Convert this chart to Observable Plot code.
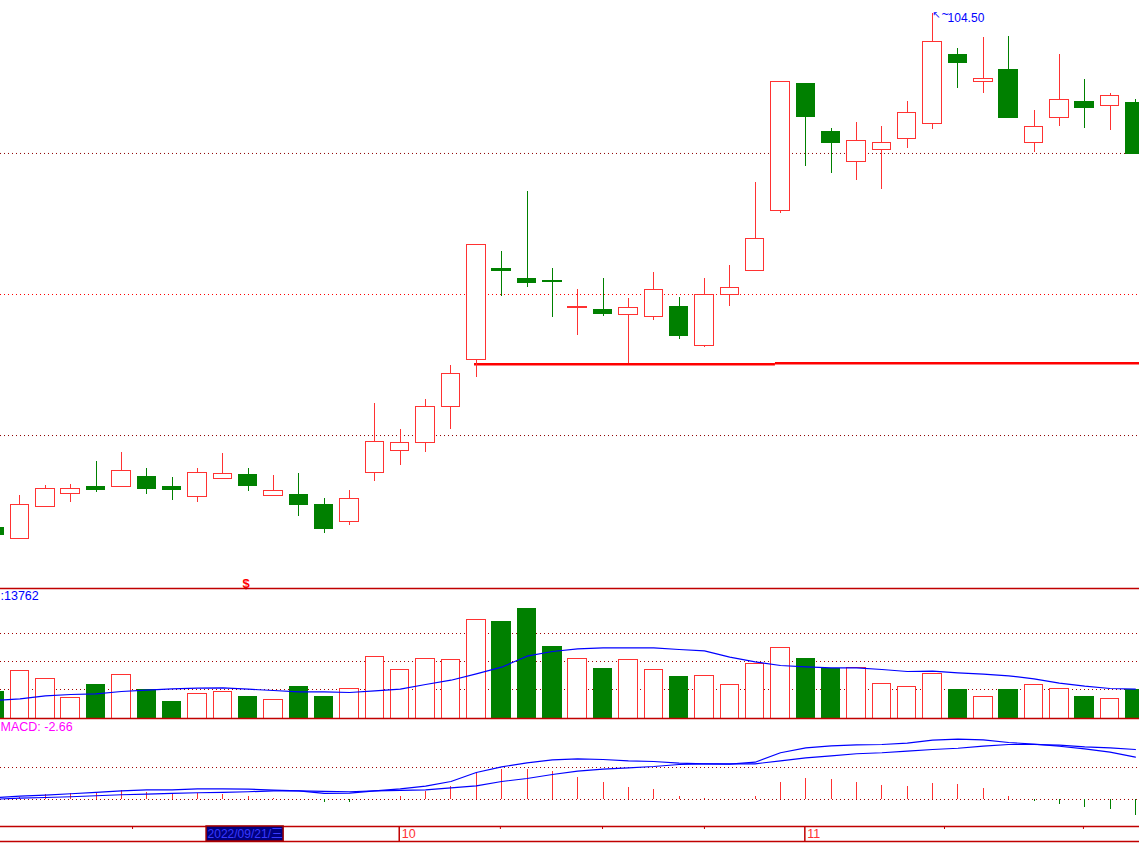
<!DOCTYPE html>
<html><head><meta charset="utf-8">
<script src="https://cdn.jsdelivr.net/npm/d3@7"></script>
<script src="https://cdn.jsdelivr.net/npm/@observablehq/plot@0.6"></script>
<style>
html,body{margin:0;padding:0;background:#fff;overflow:hidden;}
#chart{position:relative;width:1139px;height:843px;overflow:hidden;background:#fff;}
#chart svg{position:absolute;left:0;top:0;}
</style></head><body><div id="chart"></div>
<script>
// ---------- data ----------
const dates = ["2022-09-08","2022-09-09","2022-09-13","2022-09-14","2022-09-15","2022-09-16","2022-09-19","2022-09-20","2022-09-21","2022-09-22","2022-09-23","2022-09-26","2022-09-27","2022-09-28","2022-09-29","2022-09-30",
"2022-10-10","2022-10-11","2022-10-12","2022-10-13","2022-10-14","2022-10-17","2022-10-18","2022-10-19","2022-10-20","2022-10-21","2022-10-24","2022-10-25","2022-10-26","2022-10-27","2022-10-28","2022-10-31",
"2022-11-01","2022-11-02","2022-11-03","2022-11-04","2022-11-07","2022-11-08","2022-11-09","2022-11-10","2022-11-11","2022-11-14","2022-11-15","2022-11-16","2022-11-17","2022-11-18"];
const open  = [51.10,49.88,53.21,54.60,55.26,55.29,56.30,55.36,54.25,56.12,56.51,54.40,54.43,53.39,51.69,56.79,59.07,59.91,63.65,68.53,77.99,76.98,76.70,73.90,73.76,73.21,73.00,74.07,69.99,75.29,77.78,84.02,97.15,92.16,89.12,90.36,91.51,93.07,100.17,97.43,98.61,91.09,93.69,95.38,94.94,95.18];
const high  = [51.10,54.43,55.47,55.57,57.96,58.90,57.23,56.30,57.23,58.79,57.23,56.51,56.71,54.12,54.95,63.99,61.29,64.41,67.94,80.49,79.79,86.03,78.02,75.84,76.98,74.91,77.61,75.01,76.98,78.34,86.96,97.36,97.15,92.58,93.20,92.78,95.38,104.50,100.89,102.04,102.14,94.45,100.27,97.67,96.22,95.59];
const low   = [50.37,49.88,53.21,53.73,54.77,55.29,54.56,53.91,53.73,56.12,54.84,54.40,52.24,50.51,51.34,55.91,57.58,58.93,61.32,66.72,75.14,76.08,72.96,71.09,73.07,68.12,72.59,70.67,69.84,74.11,77.71,83.71,88.66,87.93,87.20,86.27,90.53,92.50,96.73,96.25,93.65,90.11,92.82,92.61,92.40,89.95];
const close = [50.37,53.49,55.12,55.12,54.95,56.99,55.08,54.95,56.79,56.61,55.39,54.92,53.42,50.92,54.08,60.01,59.91,63.65,67.08,80.49,77.74,76.50,76.64,74.07,73.27,73.94,75.81,70.99,75.29,76.02,81.11,97.36,93.75,91.05,91.30,91.09,94.21,101.59,99.36,97.67,93.65,92.78,95.49,94.69,95.98,89.95];
const volume = [13120,23180,19290,10060,16520,20900,13950,8260,12150,13120,10690,9230,15550,10690,14430,29650,23330,29160,28670,47630,46660,53460,34990,29160,24300,28530,23670,19930,20750,16380,26580,34360,29160,24300,24640,16860,15410,21720,14090,10550,14090,16380,14430,10210,9570,13762];
const volumeMA = [8750,9570,11030,11660,12000,13120,13750,14430,14730,14920,14240,13610,12980,12980,12640,13460,14240,16520,18610,21720,24930,30280,32560,33870,34360,34360,34360,33530,32900,29790,27560,25760,25130,24640,24640,23810,22840,22990,22210,21530,20750,19290,17160,15700,14580,14240];
const dif  = [0.29,0.56,0.73,0.97,1.19,1.47,1.64,1.64,1.81,1.81,1.75,1.58,1.47,1.02,1.07,1.47,1.81,2.25,3.05,4.58,5.54,6.22,6.73,6.90,6.78,6.56,6.44,6.15,6.05,5.98,6.32,7.92,8.76,9.10,9.27,9.32,9.54,10.05,10.22,10.12,9.66,9.37,9.03,8.59,8.02,7.17];
const dea  = [0.05,0.22,0.34,0.46,0.63,0.80,0.90,1.02,1.14,1.19,1.31,1.47,1.47,1.36,1.31,1.47,1.53,1.64,1.98,2.32,3.05,3.56,4.24,4.80,5.14,5.37,5.59,5.93,6.05,6.05,6.05,6.56,7.07,7.41,7.75,7.92,8.19,8.47,8.69,9.03,9.32,9.32,9.20,8.93,8.76,8.47];
const macd = [0.45,0.29,0.80,0.97,1.07,1.47,1.19,0.90,1.02,0.90,0.46,0.17,0.02,-0.56,-0.56,0.00,0.51,1.41,2.20,4.41,5.14,5.14,4.75,3.73,2.88,2.03,1.69,0.51,0.17,0.05,0.51,2.88,3.56,3.39,2.88,2.37,2.20,2.71,2.54,1.86,0.51,-0.29,-0.85,-1.36,-1.69,-2.66];

const priceGrid = [{v: 89.98, c: "#8b0000"}, {v: 75.32, c: "#ff0000"}, {v: 60.66, c: "#8b0000"}];
const volumeGrid = [14094, 27700, 41310];
const macdGrid = [0, 5.42];
const supportLevels = [{from: 18.93, to: 30.8, price: 68.08}, {from: 30.8, to: 45.3, price: 68.18}];
const monthLabels = [{date: "2022-10-10", label: "10"}, {date: "2022-11-01", label: "11"}];
const cursorDate = "2022-09-21";
const cursorLabel = "2022/09/21/三";
const signalDates = ["2022-09-23"];
const volumeLabel = ":13762";
const macdLabel = "MACD: -2.66";
const axisTickPos = [5.44, 19.95, 23.98, 28.0, 37.47, 42.95];

// ---------- styles ----------
const UP = "#ff3232", DOWN = "#008000", BLUE = "#0000ff", BORDER = "#c00000", GRID = "#a00000";
const FONT = "'Liberation Sans', Arial, 'Noto Sans CJK SC', sans-serif";
const W = 1139, H = 843, HW = 0.363;
const xDomain = [0.2308, 45.1617];

const rows = dates.map((date, i) => ({
  i, date, open: open[i], high: high[i], low: low[i], close: close[i],
  up: close[i] >= open[i], vol: volume[i], ma: volumeMA[i], dif: dif[i], dea: dea[i], macd: macd[i]
}));
const colorOf = d => d.up ? UP : DOWN;

function layer(top, bottom, y, marks) {
  const svg = Plot.plot({
    width: W, height: H, marginLeft: 0, marginRight: 0, marginTop: top, marginBottom: H - bottom,
    x: {type: "linear", domain: xDomain, axis: null},
    y: {...y, axis: null},
    color: {type: "identity"},
    style: "background: transparent; overflow: hidden; max-width: none;",
    marks
  });
  document.getElementById("chart").appendChild(svg);
}

// ---------- price panel ----------
const priceDomain = [44.76, 105.88];
const hiIdx = d3.maxIndex(high);
layer(0, 588, {domain: priceDomain}, [
  Plot.ruleY(priceGrid, {y: "v", stroke: "c", strokeWidth: 1, strokeDasharray: "1,3"}),
  Plot.ruleY(supportLevels, {y: "price", x1: "from", x2: "to", stroke: "#ff0000", strokeWidth: 2.5, clip: true}),
  Plot.ruleX(rows, {x: "i", y1: "low", y2: "high", stroke: colorOf, strokeWidth: 1, shapeRendering: "crispEdges", clip: true}),
  Plot.rect(rows, {x1: d => d.i - HW, x2: d => d.i + HW, y1: "open", y2: "close",
    fill: d => d.up ? "#ffffff" : DOWN, stroke: colorOf, strokeWidth: 1, shapeRendering: "crispEdges", clip: true}),
  Plot.text([rows[hiIdx]], {x: "i", y: "high", text: () => "↖~", fill: BLUE, fontSize: 10,
    fontFamily: "'DejaVu Sans', sans-serif", textAnchor: "start", lineAnchor: "top", dx: 0, dy: -3}),
  Plot.text([rows[hiIdx]], {x: "i", y: "high", text: d => d.high.toFixed(2), fill: BLUE, fontSize: 12,
    fontFamily: FONT, textAnchor: "start", lineAnchor: "middle", dx: 15, dy: 4}),
  Plot.text(signalDates, {x: d => dates.indexOf(d), y: () => priceDomain[0], text: () => "$", fill: "#ff0000",
    fontSize: 13, fontWeight: "bold", fontFamily: FONT, textAnchor: "middle", lineAnchor: "bottom", dx: -2, dy: -1})
]);

// ---------- volume panel ----------
const volDomain = [0, 63180];
layer(588, 718, {domain: volDomain}, [
  Plot.ruleY(volumeGrid, {stroke: GRID, strokeWidth: 1, strokeDasharray: "1,3"}),
  Plot.rect(rows, {x1: d => d.i - HW, x2: d => d.i + HW, y1: 0, y2: "vol",
    fill: d => d.up ? "#ffffff" : DOWN, stroke: colorOf, strokeWidth: 1, shapeRendering: "crispEdges", clip: true}),
  Plot.line(rows, {x: "i", y: "ma", stroke: BLUE, strokeWidth: 1.2, clip: true}),
  Plot.ruleY([volDomain[1]], {stroke: BORDER, strokeWidth: 1.5}),
  Plot.ruleY([volDomain[0]], {stroke: BORDER, strokeWidth: 1.5}),
  Plot.text([volumeLabel], {frameAnchor: "top-left", text: d => d, fill: BLUE, fontSize: 12.5, fontFamily: FONT,
    textAnchor: "start", lineAnchor: "top", dx: 0, dy: 3})
]);

// ---------- MACD panel ----------
const macdDomain = [-4.58, 13.73];
layer(718, 826, {domain: macdDomain}, [
  Plot.ruleY(macdGrid, {stroke: GRID, strokeWidth: 1, strokeDasharray: "1,3"}),
  Plot.ruleX(rows, {x: "i", y1: 0, y2: "macd", stroke: d => d.macd >= 0 ? UP : DOWN, strokeWidth: 1, shapeRendering: "crispEdges", clip: true}),
  Plot.line(rows, {x: "i", y: "dif", stroke: BLUE, strokeWidth: 1.2, clip: true}),
  Plot.line(rows, {x: "i", y: "dea", stroke: BLUE, strokeWidth: 1.2, clip: true}),
  Plot.text([macdLabel], {frameAnchor: "top-left", text: d => d, fill: "#ff00ff", fontSize: 12.5, fontFamily: FONT,
    textAnchor: "start", lineAnchor: "top", dx: 0, dy: 3.5})
]);

// ---------- date axis ----------
const cursorIdx = dates.indexOf(cursorDate);
layer(826, 843, {domain: [0, 17]}, [
  Plot.ruleY([17, 2], {stroke: BORDER, strokeWidth: 1.5}),
  Plot.ruleX(axisTickPos, {x: d => d, y1: 14, y2: 17, stroke: BORDER, strokeWidth: 1}),
  Plot.ruleX(monthLabels, {x: d => dates.indexOf(d.date) - 0.04, y1: 2, y2: 17, stroke: BORDER, strokeWidth: 1.5}),
  Plot.text(monthLabels, {x: d => dates.indexOf(d.date), y: () => 9.5, text: "label", fill: "#ff3232", fontSize: 12.5,
    fontFamily: FONT, textAnchor: "start", lineAnchor: "middle", dx: 1.5}),
  Plot.rect([cursorIdx], {x1: d => d + 0.36, x2: d => d + 3.4, y1: 2, y2: 17, fill: "#000080", stroke: "#a00000", strokeWidth: 1.5}),
  Plot.text([cursorIdx], {x: d => d + 0.36, y: () => 9.5, text: () => cursorLabel, fill: "#3a3aff", fontSize: 12,
    fontFamily: FONT, textAnchor: "start", lineAnchor: "middle", dx: 1})
]);
</script></body></html>
